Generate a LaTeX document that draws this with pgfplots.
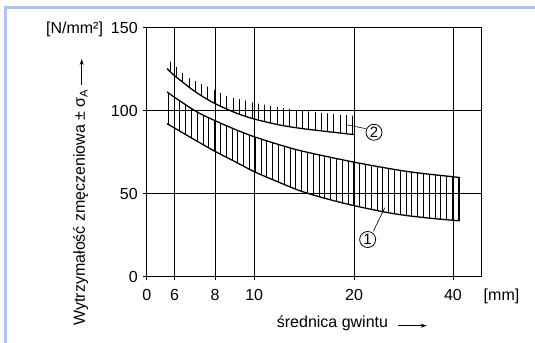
\documentclass[border=0pt]{standalone}
\usepackage{fontspec}
\setmainfont{Liberation Sans}
\usepackage{pgfplots}
\pgfplotsset{compat=1.18}
\usepgfplotslibrary{fillbetween}
\usetikzlibrary{patterns.meta,arrows.meta}
\definecolor{frameblue}{RGB}{168,198,238}

\begin{document}
\fontsize{16bp}{19bp}\selectfont
\begin{tikzpicture}
\begin{axis}[
  scale only axis, width=334.4bp, height=249bp,
  x coord trafo/.code={\pgfmathparse{#1<4.905 ? 0 : (#1<8 ? 28+140.1*ln(max(#1,1)/6) : (#1<10 ? 68.3+175.7*ln(max(#1,1)/8) : (#1<20 ? 107.5+144.1*ln(max(#1,1)/10) : 207.4+142.8*ln(max(#1,1)/20))))}},
  xmin=0, xmax=48.7, ymin=0, ymax=150,
  xtick={0,6,8,10,20,40}, xticklabels={0,6,8,10,20,40},
  ytick={0,50,100,150}, yticklabels={0,50,100,{[N/mm²]\hspace{8bp}150}},
  xtick pos=left, ytick pos=left,
  grid=major, major grid style={black, line width=0.9bp},
  axis line style={line width=0.9bp},
  tick style={black, line width=0.9bp}, tick align=outside, major tick length=3.5bp,
  tick label style={font=\fontsize{16bp}{19bp}\selectfont},
  xticklabel style={anchor=base, yshift=-20bp},
  yticklabel style={anchor=base east, yshift=-5.7bp},
]
% band 2
\addplot[name path=b2low, line width=1.3bp, smooth] coordinates {
(5.68,125.4) (6,121) (7,111) (8,104.3) (9,98.7) (10,95) (12,91.3) (14,89.2) (17,87.2) (20,85.6)};
\addplot[name path=b2top, draw=none, smooth] coordinates {
(5.68,132) (5.87,129) (6.16,125.6) (6.46,121.4) (6.74,119) (7.05,117.4) (7.38,115.4) (7.72,114) (8.08,112) (8.66,108.4) (9.35,106.6) (10.1,104.6) (12,102) (14,100) (16.5,98.4) (20,97)};
\addplot[draw=none, pattern={Lines[angle=90,distance=6.3bp,line width=0.85bp]}] fill between[of=b2top and b2low];
% band 1
\addplot[name path=b1up, line width=1.3bp, smooth] coordinates {
(5.68,111.4) (6,108) (7,99.5) (8,94) (9,88.6) (10,84.3) (12,79.3) (14,75.6) (20,69) (29,63.4) (40,60.2) (41.8,59.8)};
\addplot[name path=b1low, line width=1.3bp, smooth] coordinates {
(5.68,92.2) (6,89.5) (7,81.9) (8,75.5) (9,69.1) (10,63.3) (12,56.5) (14,51.2) (17,46.3) (20,42.8) (25,38.8) (29,36.8) (35,35) (40,34) (41.8,33.7)};
\addplot[draw=none, pattern={Lines[angle=90,distance=5.8bp,line width=0.85bp]}] fill between[of=b1up and b1low];
\addplot[line width=1.1bp] coordinates {(41.8,59.8) (41.8,33.7)};
\addplot[line width=0.8bp] coordinates {(5.75,110.6) (5.75,91.4)};
% labels
\node[draw, circle, line width=0.8bp, minimum size=16bp, inner sep=0pt, font=\fontsize{15bp}{18bp}\selectfont] at (axis cs:23.0,87) {2};
\draw[line width=0.6bp] (axis cs:18.9,91.6) -- (axis cs:21.7,89.2);
\node[draw, circle, line width=0.8bp, minimum size=16bp, inner sep=0pt, font=\fontsize{15bp}{18bp}\selectfont] at (axis cs:22.0,22.4) {1};
\draw[line width=0.6bp] (axis cs:24.8,41.6) -- (axis cs:22.9,27.4);
\coordinate (O) at (rel axis cs:0,0);
\end{axis}
\path[use as bounding box] ([shift={(-146.7bp,-66.3bp)}]O) rectangle ++(535bp,343bp);
\draw[frameblue, line width=3bp] ([shift={(-142.7bp,269.4bp)}]O) -- ++(531bp,0);
\draw[frameblue, line width=3bp] ([shift={(-141bp,270.9bp)}]O) -- ([shift={(-141bp,-66.3bp)}]O);
\node[rotate=90, anchor=base west, inner sep=0pt] at ([shift={(-61.7bp,-49bp)}]O) {Wytrzymałość zmęczeniowa ± σ\textsubscript{A}};
\draw[-{Stealth[length=6bp,width=4bp]}, line width=0.8bp] ([shift={(-65bp,191.7bp)}]O) -- ([shift={(-65bp,217.7bp)}]O);
\node[anchor=base west, inner sep=0pt] at ([shift={(130bp,-50.3bp)}]O) {średnica gwintu};
\draw[-{Stealth[length=6bp,width=4bp]}, line width=0.8bp] ([shift={(251.3bp,-49bp)}]O) -- ([shift={(280bp,-49bp)}]O);
\node[anchor=base, inner sep=0pt] at ([shift={(354.8bp,-23.3bp)}]O) {[mm]};
\end{tikzpicture}
\end{document}
